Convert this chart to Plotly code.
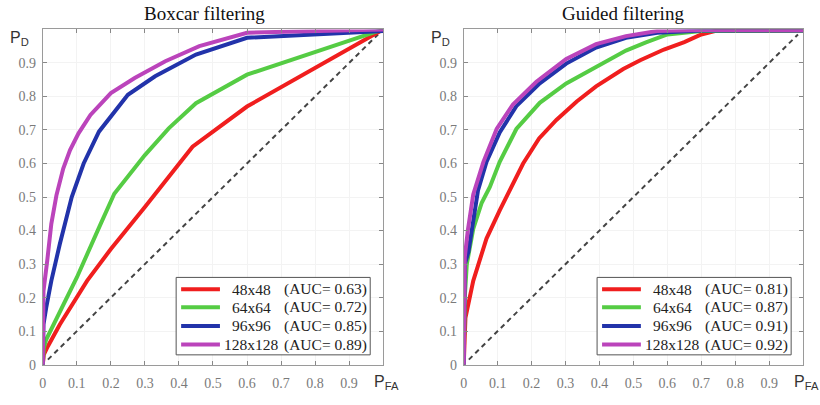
import plotly.graph_objects as go

# ---------------- data ----------------
names = ["48x48", "64x64", "96x96", "128x128"]
auc_box = ["0.63", "0.72", "0.85", "0.89"]
auc_guided = ["0.81", "0.87", "0.91", "0.92"]
colors = ["#f01e1e", "#55cc44", "#2233aa", "#bb44bb"]

box_fpr_48 = [0, 0.003, 0.015, 0.05, 0.13, 0.2, 0.3, 0.44, 0.6, 0.8, 1.0]
box_tpr_48 = [0, 0.03, 0.055, 0.12, 0.25, 0.345, 0.47, 0.65, 0.77, 0.885, 1.0]
box_fpr_64 = [0, 0.003, 0.01, 0.05, 0.1, 0.17, 0.21, 0.3, 0.37, 0.45, 0.6, 1.0]
box_tpr_64 = [0, 0.05, 0.075, 0.16, 0.26, 0.42, 0.51, 0.625, 0.705, 0.78, 0.865, 1.0]
box_fpr_96 = [0, 0.002, 0.01, 0.025, 0.05, 0.085, 0.12, 0.165, 0.25, 0.33, 0.45, 0.6, 1.0]
box_tpr_96 = [0, 0.12, 0.17, 0.25, 0.36, 0.5, 0.6, 0.695, 0.805, 0.86, 0.925, 0.975, 0.995]
box_fpr_128 = [0, 0.002, 0.013, 0.025, 0.04, 0.06, 0.08, 0.105, 0.14, 0.2, 0.27, 0.36, 0.46, 0.55, 0.6, 1.0]
box_tpr_128 = [0, 0.22, 0.31, 0.42, 0.505, 0.585, 0.64, 0.69, 0.745, 0.81, 0.855, 0.905, 0.95, 0.975, 0.99, 1.0]

gui_fpr_48 = [0, 0.002, 0.005, 0.028, 0.067, 0.106, 0.13, 0.175, 0.222, 0.273, 0.333, 0.39, 0.47, 0.52, 0.59, 0.65, 0.7, 0.74, 1.0]
gui_tpr_48 = [0, 0.08, 0.14, 0.25, 0.376, 0.46, 0.51, 0.6, 0.675, 0.73, 0.785, 0.83, 0.882, 0.908, 0.94, 0.962, 0.985, 0.995, 0.997]
gui_fpr_64 = [0, 0.003, 0.009, 0.028, 0.053, 0.077, 0.106, 0.155, 0.224, 0.302, 0.39, 0.478, 0.537, 0.6, 0.7, 1.0]
gui_tpr_64 = [0, 0.2, 0.3, 0.405, 0.483, 0.53, 0.605, 0.703, 0.781, 0.839, 0.888, 0.937, 0.961, 0.985, 0.995, 0.997]
gui_fpr_96 = [0, 0.003, 0.014, 0.028, 0.042, 0.067, 0.106, 0.155, 0.224, 0.302, 0.39, 0.478, 0.57, 0.7, 1.0]
gui_tpr_96 = [0, 0.3, 0.337, 0.435, 0.52, 0.605, 0.693, 0.771, 0.839, 0.898, 0.946, 0.975, 0.99, 0.997, 0.997]
gui_fpr_128 = [0, 0.003, 0.012, 0.028, 0.058, 0.097, 0.145, 0.214, 0.302, 0.39, 0.478, 0.57, 0.7, 1.0]
gui_tpr_128 = [0, 0.32, 0.4, 0.508, 0.605, 0.703, 0.776, 0.844, 0.912, 0.956, 0.98, 0.995, 0.998, 0.998]

diag = [0.015, 0.985]
tick_vals = [0, 0.1, 0.2, 0.3, 0.4, 0.5, 0.6, 0.7, 0.8, 0.9]
tick_text = ["0", "0.1", "0.2", "0.3", "0.4", "0.5", "0.6", "0.7", "0.8", "0.9"]

titles = ["Boxcar filtering", "Guided filtering"]

# ---------------- figure ----------------
W, H = 820, 405
SERIF = "Liberation Serif, Times New Roman, serif"
SANS = "Liberation Sans, Arial, sans-serif"
fig = go.Figure()

panels = [
    ("x", "y", auc_box,
     [(box_fpr_48, box_tpr_48), (box_fpr_64, box_tpr_64), (box_fpr_96, box_tpr_96), (box_fpr_128, box_tpr_128)]),
    ("x2", "y2", auc_guided,
     [(gui_fpr_48, gui_tpr_48), (gui_fpr_64, gui_tpr_64), (gui_fpr_96, gui_tpr_96), (gui_fpr_128, gui_tpr_128)]),
]

for xa, ya, aucs, curves in panels:
    fig.add_trace(go.Scatter(x=diag, y=diag, mode="lines", xaxis=xa, yaxis=ya,
                             line=dict(color="#444444", width=2, dash="5px,4px"),
                             showlegend=False, hoverinfo="skip"))
    for i, (fx, ty) in enumerate(curves):
        fig.add_trace(go.Scatter(x=fx, y=ty, mode="lines", xaxis=xa, yaxis=ya,
                                 name=f"{names[i]} (AUC= {aucs[i]})", showlegend=False,
                                 line=dict(color=colors[i], width=4)))

axis_common = dict(range=[0, 1], tickvals=tick_vals, ticktext=tick_text,
                   ticks="inside", ticklen=4, tickcolor="#888888",
                   showline=True, linecolor="#9a9a9a", linewidth=1, mirror="ticks",
                   showgrid=True, gridcolor="#f3f3f3", gridwidth=1, zeroline=False,
                   tickfont=dict(family=SERIF, size=14, color="#7a7a7a"))

xd1 = [39 / W, 381 / W]
xd2 = [462 / W, 803 / W]
yd = [(H - 372) / H, (H - 30) / H]

fig.update_layout(
    width=W, height=H,
    margin=dict(l=0, r=0, t=0, b=0),
    paper_bgcolor="white", plot_bgcolor="white",
    xaxis=dict(domain=xd1, anchor="y", ticklabelstandoff=6, **axis_common),
    yaxis=dict(domain=yd, anchor="x", ticklabelstandoff=3, **axis_common),
    xaxis2=dict(domain=xd2, anchor="y2", ticklabelstandoff=6, **axis_common),
    yaxis2=dict(domain=yd, anchor="x2", ticklabelstandoff=3, **axis_common),
    showlegend=False,
)

def px(x):
    return x / W

def py(y):
    return (H - y) / H

ann = []
shapes = []
# titles
for title, xc in zip(titles, [201.5, 622]):
    ann.append(dict(text=title, x=px(xc), y=py(14), xref="paper", yref="paper",
                    showarrow=False, xanchor="center", yanchor="middle",
                    font=dict(family=SERIF, size=19, color="#111111")))
# axis labels
for xc in [16, 439]:
    ann.append(dict(text="P<sub>D</sub>", x=px(xc), y=py(39), xref="paper", yref="paper",
                    showarrow=False, xanchor="center", yanchor="middle",
                    font=dict(family=SANS, size=16, color="#333333")))
for xc in [384, 806]:
    ann.append(dict(text="P<sub>FA</sub>", x=px(xc), y=py(390), xref="paper", yref="paper",
                    showarrow=False, xanchor="center", yanchor="middle",
                    font=dict(family=SANS, size=16, color="#333333")))

# legends (boxed, lower right of each panel)
row_y = [295, 313.5, 332.5, 351.5]
for off, aucs in [(0, auc_box), (423, auc_guided)]:
    shapes.append(dict(type="rect", xref="paper", yref="paper",
                       x0=px(173 + off), x1=px(368 + off), y0=py(362), y1=py(283),
                       line=dict(color="#555555", width=1), fillcolor="white", layer="above"))
    for i in range(4):
        shapes.append(dict(type="line", xref="paper", yref="paper",
                           x0=px(178 + off), x1=px(217 + off), y0=py(row_y[i]), y1=py(row_y[i]),
                           line=dict(color=colors[i], width=4), layer="above"))
        ann.append(dict(text=names[i], x=px(248.5 + off), y=py(row_y[i]), xref="paper", yref="paper",
                        showarrow=False, xanchor="center", yanchor="middle",
                        font=dict(family=SERIF, size=15.5, color="#222222")))
        ann.append(dict(text=f"(AUC= {aucs[i]})", x=px(279.5 + off), y=py(row_y[i]), xref="paper", yref="paper",
                        showarrow=False, xanchor="left", yanchor="middle",
                        font=dict(family=SERIF, size=15.5, color="#222222")))

fig.update_layout(annotations=ann, shapes=shapes)

fig.write_html("out.html")
